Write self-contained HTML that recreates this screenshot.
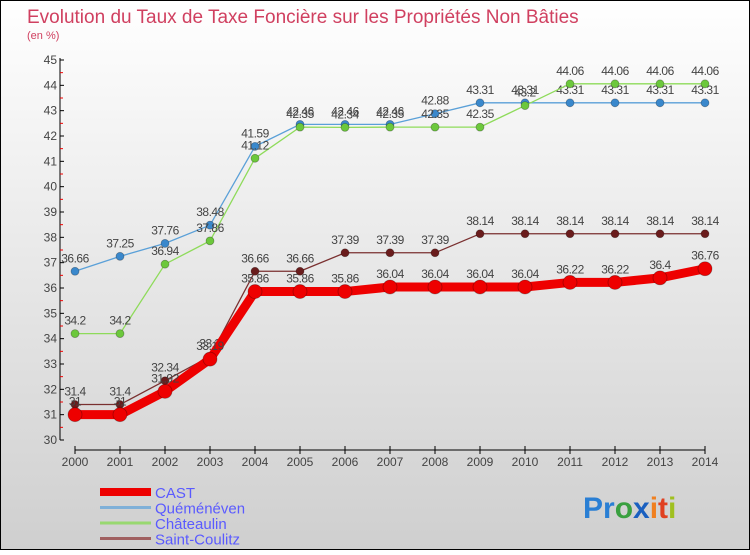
<!DOCTYPE html>
<html><head><meta charset="utf-8"><style>
html,body{margin:0;padding:0}
body{width:750px;height:550px;overflow:hidden;font-family:"Liberation Sans",sans-serif}
svg text{font-family:"Liberation Sans",sans-serif}
</style></head><body>
<svg id="chart" width="750" height="550" xmlns="http://www.w3.org/2000/svg">
<defs><linearGradient id="bg" x1="0" y1="0" x2="0" y2="1"><stop offset="0" stop-color="#ffffff"/><stop offset="1" stop-color="#cfcfcf"/></linearGradient></defs>
<rect x="0.5" y="0.5" width="749" height="549" fill="url(#bg)" stroke="#000"/>
<text x="27" y="23" font-size="19" fill="#d04060">Evolution du Taux de Taxe Foncière sur les Propriétés Non Bâties</text>
<text x="27" y="39" font-size="11" fill="#d04060">(en %)</text>
<g id="axes"></g><g id="series"></g><g id="legend"></g>
<g font-size="30" font-weight="bold">
<text x="583" y="518"><tspan fill="#2a7fd4">Pr</tspan><tspan fill="#3aa040">o</tspan><tspan fill="#1a60c0">x</tspan><tspan fill="#f08020">i</tspan><tspan fill="#e04020">t</tspan><tspan fill="#a0c020">i</tspan></text>
</g>
</svg>
<script>
const years=[2000,2001,2002,2003,2004,2005,2006,2007,2008,2009,2010,2011,2012,2013,2014];
const yTicks=[30,31,32,33,34,35,36,37,38,39,40,41,42,43,44,45];
const castVals=[31,31,31.92,33.19,35.86,35.86,35.86,36.04,36.04,36.04,36.04,36.22,36.22,36.4,36.76];
const quemVals=[36.66,37.25,37.76,38.48,41.59,42.46,42.46,42.46,42.88,43.31,43.31,43.31,43.31,43.31,43.31];
const chatVals=[34.2,34.2,36.94,37.86,41.12,42.35,42.34,42.35,42.35,42.35,43.2,44.06,44.06,44.06,44.06];
const stcVals=[31.4,31.4,32.34,33.3,36.66,36.66,37.39,37.39,37.39,38.14,38.14,38.14,38.14,38.14,38.14];
const seriesNames=["CAST","Quéménéven","Châteaulin","Saint-Coulitz"];
const NS="http://www.w3.org/2000/svg";
function X(i){return 75+i*45;}
function Y(v){return 440-(v-30)*(380/15);}
function mk(t,a,p){const e=document.createElementNS(NS,t);for(const k in a)e.setAttribute(k,a[k]);p.appendChild(e);return e;}
const ax=document.getElementById('axes');
let l=mk('line',{x1:60,y1:58,x2:60,y2:440,stroke:'#000'},ax);


l=mk('line',{x1:75,y1:450,x2:705,y2:450,stroke:'#000'},ax);


yTicks.forEach(v=>{
  mk('line',{x1:60,y1:Y(v),x2:64,y2:Y(v),stroke:'#000'},ax);
  if(v<45)mk('line',{x1:60,y1:Y(v+0.5),x2:63,y2:Y(v+0.5),stroke:'#e00'},ax);
  const t=mk('text',{x:57,y:Y(v)+4,'font-size':12,fill:'#444','text-anchor':'end'},ax);t.textContent=v;
  
  
});
years.forEach((y,i)=>{
  mk('line',{x1:X(i),y1:446,x2:X(i),y2:454,stroke:'#000'},ax);
  const t=mk('text',{x:X(i),y:466,'font-size':12,fill:'#444','text-anchor':'middle'},ax);t.textContent=y;
  
  
});
const sg=document.getElementById('series');
function draw(vals,color,w,r,name,dot){
  const g=mk('g',{},sg);
  
  
  const pl=mk('polyline',{points:vals.map((v,i)=>X(i)+','+Y(v)).join(' '),fill:'none',stroke:color,'stroke-width':w,'stroke-linejoin':'round'},g);
  vals.forEach((v,i)=>{
    const c=mk('circle',{cx:X(i),cy:Y(v),r:r,fill:dot,stroke:'rgba(0,0,0,0.3)','stroke-width':0.8},g);
    
    
    const t=mk('text',{x:X(i),y:Y(v)-9,'font-size':12,fill:'#444','text-anchor':'middle','letter-spacing':'-0.5'},g);t.textContent=v;
    
    
  });
}
draw(quemVals,'#5aa0d8',1.3,4,'quemeneven','#3a88cc');
draw(chatVals,'#8edb5a',1.3,4,'chateaulin','#6cc83c');
draw(stcVals,'#7a3030',1.3,4,'saint-coulitz','#6a1c1c');
draw(castVals,'#ee0000',9,7,'cast','#ee0000');
const lg=document.getElementById('legend');
const lc=['#ee0000','#7fb0d8','#98d870','#a06060'],lw=[8,3,3,3];
seriesNames.forEach((n,i)=>{
  const y=492+i*15.5;
  const g=mk('g',{},lg);
  
  
  mk('line',{x1:100,y1:y,x2:151,y2:y,stroke:lc[i],'stroke-width':lw[i]},g);
  const t=mk('text',{x:155,y:y+6,'font-size':15,fill:'#5a5aff'},g);t.textContent=n;
});
</script>
</body></html>
